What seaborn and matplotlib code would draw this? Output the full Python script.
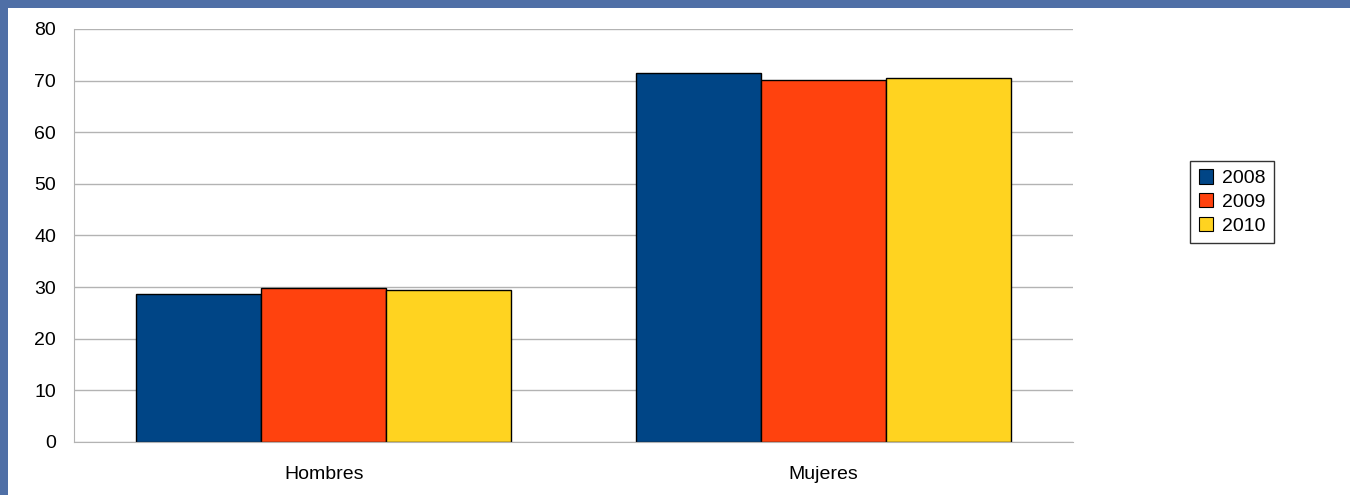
import matplotlib.pyplot as plt
import matplotlib.patches as mpatches
import pandas as pd
import seaborn as sns

# data
categories = ['Hombres', 'Mujeres']
years = ['2008', '2009', '2010']
values_2008 = [28.6, 71.4]
values_2009 = [29.8, 70.2]
values_2010 = [29.4, 70.6]

colors = {'2008': '#004586', '2009': '#ff420e', '2010': '#ffd320'}

df = pd.DataFrame({
    'Sexo': categories * 3,
    'Año': [y for y in years for _ in categories],
    'Valor': values_2008 + values_2009 + values_2010,
})

sns.set_style('white')
plt.rcParams['font.family'] = ['Liberation Sans', 'DejaVu Sans']
plt.rcParams['text.color'] = 'black'
plt.rcParams['xtick.labelcolor'] = 'black'
plt.rcParams['ytick.labelcolor'] = 'black'

fig = plt.figure(figsize=(13.5, 4.95), dpi=100)
fig.patch.set_facecolor('#4f6fa6')
# white chart area inside the blue page border
fig.add_artist(mpatches.Rectangle((8 / 1350, 0), 1, 1 - 8 / 495,
                                  transform=fig.transFigure,
                                  facecolor='white', edgecolor='none', zorder=-1))

ax = fig.add_axes([74 / 1350, 53 / 495, 999 / 1350, 413 / 495])
sns.barplot(data=df, x='Sexo', y='Valor', hue='Año', order=categories,
            hue_order=years, palette=colors, width=0.75, dodge=True,
            edgecolor='black', linewidth=1, saturation=1, ax=ax, legend=False)

ax.set_ylim(0, 80)
ax.set_yticks(range(0, 81, 10))
ax.set_xlim(-0.5, 1.5)
ax.yaxis.grid(True, color='#b3b3b3', linewidth=1)
ax.set_axisbelow(True)
for side in ['top', 'right']:
    ax.spines[side].set_visible(False)
ax.spines['left'].set_color('#b3b3b3')
ax.spines['bottom'].set_color('#b3b3b3')
ax.tick_params(axis='y', length=7, color='#b3b3b3', labelsize=14, pad=6)
ax.tick_params(axis='x', length=7, color='#b3b3b3', labelsize=14, pad=10)
ax.set_xlabel('')
ax.set_ylabel('')
ax.set_facecolor('white')

handles = [mpatches.Patch(facecolor=colors[y], edgecolor='black', linewidth=0.8, label=y)
           for y in years]
leg = fig.legend(handles=handles, loc='center', bbox_to_anchor=(1232 / 1350, 1 - 202 / 495),
                 fancybox=False, framealpha=1, edgecolor='#333333', fontsize=14,
                 handlelength=0.75, handleheight=0.75, handletextpad=0.45,
                 labelspacing=0.3, borderpad=0.45)
leg.get_frame().set_linewidth(1)

fig.savefig('out.png', dpi=100, facecolor=fig.get_facecolor())
